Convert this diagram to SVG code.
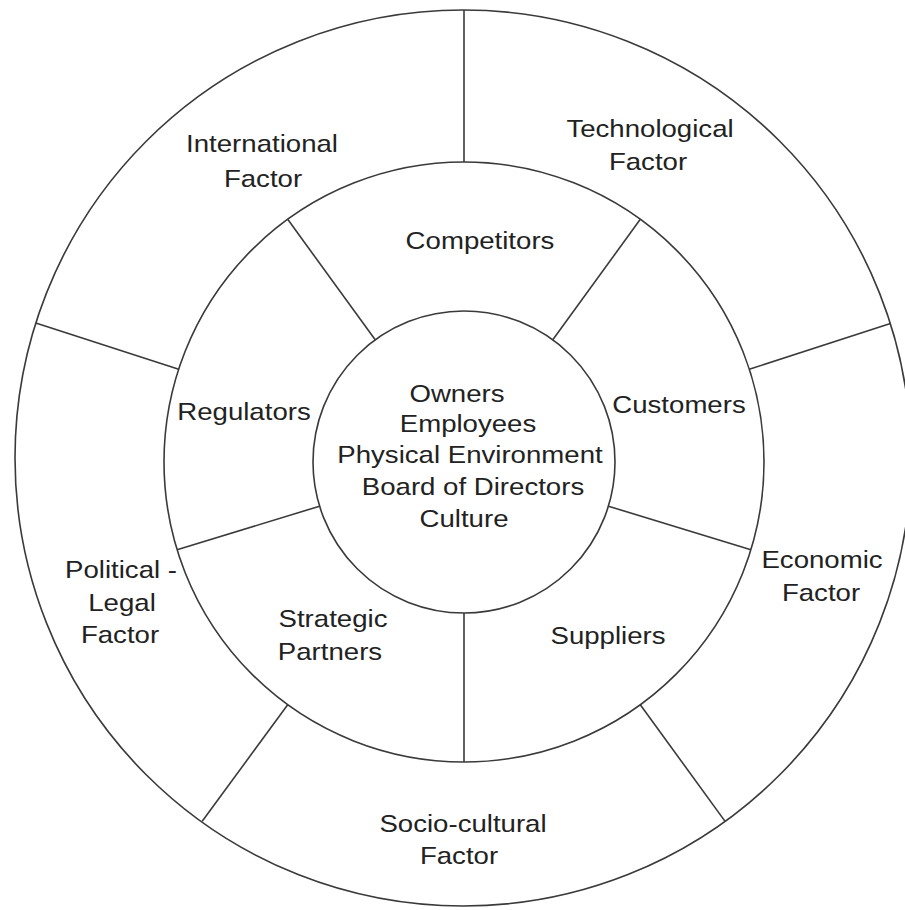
<svg xmlns="http://www.w3.org/2000/svg" width="905" height="910" viewBox="0 0 905 910">
  <style>
    .ring { fill: none; stroke: #3a3a3a; stroke-width: 1.6; }
    .div { stroke: #3a3a3a; stroke-width: 1.6; fill: none; }
    .lbl { font-family: "Liberation Sans", Arial, sans-serif; font-size: 24px; fill: #222; text-anchor: middle; }
  </style>
  <rect width="905" height="910" fill="#fff"/>

  <!-- concentric rings -->
  <g id="rings">
    <circle class="ring" cx="463" cy="458" r="448"/>
    <circle class="ring" cx="464" cy="462" r="300"/>
    <circle class="ring" cx="464" cy="462" r="151"/>
  </g>

  <!-- radial dividers between the sectors -->
  <g id="connectors">
    <!-- middle ring -->
    <line class="div" x1="608.4" y1="506.2" x2="750.9" y2="549.7"/>
    <line class="div" x1="464" y1="613" x2="464" y2="762"/>
    <line class="div" x1="319.6" y1="506.2" x2="177.1" y2="549.7"/>
    <line class="div" x1="375.2" y1="339.8" x2="287.7" y2="219.3"/>
    <line class="div" x1="552.8" y1="339.8" x2="640.3" y2="219.3"/>
    <!-- outer ring -->
    <line class="div" x1="464" y1="162" x2="464" y2="10"/>
    <line class="div" x1="749.3" y1="369.3" x2="890.4" y2="323.5"/>
    <line class="div" x1="178.7" y1="369.3" x2="35.8" y2="322.9"/>
    <line class="div" x1="640.3" y1="704.7" x2="725.1" y2="821.4"/>
    <line class="div" x1="287.7" y1="704.7" x2="202.2" y2="821.3"/>
  </g>

  <!-- internal environment -->
  <g id="internal">
    <text class="lbl" transform="translate(457,402) scale(1.15,1)">Owners</text>
    <text class="lbl" transform="translate(468,432) scale(1.15,1)">Employees</text>
    <text class="lbl" transform="translate(470,463) scale(1.15,1)">Physical Environment</text>
    <text class="lbl" transform="translate(473,495) scale(1.15,1)">Board of Directors</text>
    <text class="lbl" transform="translate(464,527) scale(1.15,1)">Culture</text>
  </g>

  <!-- task environment -->
  <g id="competitors">
    <text class="lbl" transform="translate(480,249) scale(1.15,1)">Competitors</text>
  </g>
  <g id="customers">
    <text class="lbl" transform="translate(679,413) scale(1.15,1)">Customers</text>
  </g>
  <g id="suppliers">
    <text class="lbl" transform="translate(608,644) scale(1.15,1)">Suppliers</text>
  </g>
  <g id="strategic-partners">
    <text class="lbl" transform="translate(333,627) scale(1.15,1)">Strategic</text>
    <text class="lbl" transform="translate(330,660) scale(1.15,1)">Partners</text>
  </g>
  <g id="regulators">
    <text class="lbl" transform="translate(244,420) scale(1.15,1)">Regulators</text>
  </g>

  <!-- general environment -->
  <g id="international">
    <text class="lbl" transform="translate(262,152) scale(1.15,1)">International</text>
    <text class="lbl" transform="translate(263,187) scale(1.15,1)">Factor</text>
  </g>
  <g id="technological">
    <text class="lbl" transform="translate(650,137) scale(1.15,1)">Technological</text>
    <text class="lbl" transform="translate(648,170) scale(1.15,1)">Factor</text>
  </g>
  <g id="economic">
    <text class="lbl" transform="translate(822,568) scale(1.15,1)">Economic</text>
    <text class="lbl" transform="translate(821,601) scale(1.15,1)">Factor</text>
  </g>
  <g id="socio-cultural">
    <text class="lbl" transform="translate(463,832) scale(1.15,1)">Socio-cultural</text>
    <text class="lbl" transform="translate(459,864) scale(1.15,1)">Factor</text>
  </g>
  <g id="political-legal">
    <text class="lbl" transform="translate(121,578) scale(1.15,1)">Political -</text>
    <text class="lbl" transform="translate(122,611) scale(1.15,1)">Legal</text>
    <text class="lbl" transform="translate(120,643) scale(1.15,1)">Factor</text>
  </g>
</svg>
